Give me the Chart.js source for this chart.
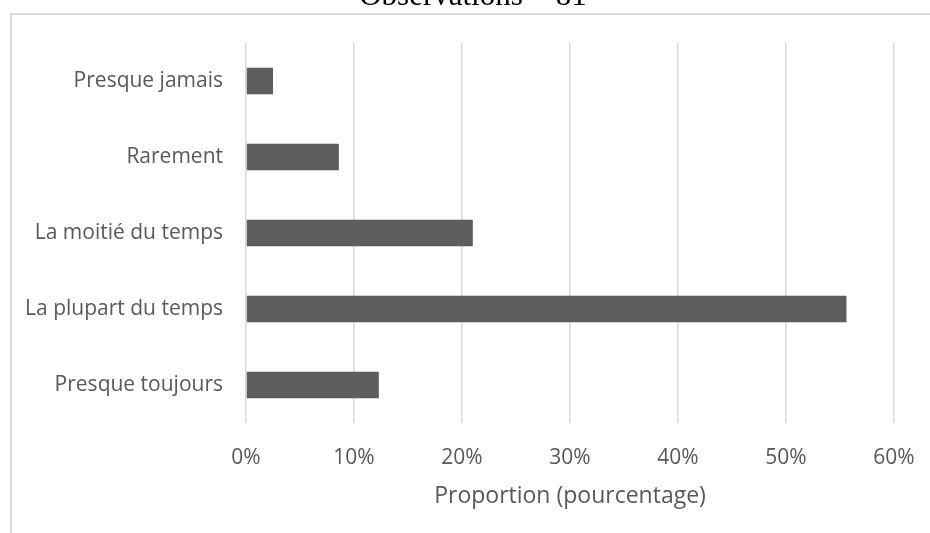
<!DOCTYPE html>
<html>
<head>
<meta charset="utf-8">
<script src="https://cdn.jsdelivr.net/npm/chart.js@4"></script>
<style>
  html, body { margin: 0; padding: 0; background: #fff; overflow: hidden; }
  #wrap { position: relative; width: 930px; height: 533px; }
  #frame { position: absolute; left: 10px; top: 13px; width: 1000px; height: 1000px; border: 2px solid #d9d9d9; }
  canvas { position: absolute; left: 0; top: 0; }
</style>
</head>
<body>
<div id="wrap">
  <div id="frame"></div>
  <canvas id="chart" width="930" height="533"></canvas>
</div>
<script>
// answers, top to bottom as drawn
const categories = ['Presque jamais', 'Rarement', 'La moitié du temps', 'La plupart du temps', 'Presque toujours'];
const proportions = [2.5, 8.6, 21.0, 55.6, 12.3];
const xTicks = [0, 10, 20, 30, 40, 50, 60];
const chartTitle = 'Observations = 81';
const axisTitle = 'Proportion (pourcentage)';

const labelFont = "'Open Sans', sans-serif";

// title sits half outside the picture, so draw it ourselves
const clippedTitle = {
  id: 'clippedTitle',
  afterDraw(chart) {
    const ctx = chart.ctx;
    ctx.save();
    ctx.font = "31px 'Liberation Serif', serif";
    ctx.fillStyle = '#000';
    ctx.textAlign = 'center';
    ctx.textBaseline = 'alphabetic';
    ctx.fillText(chartTitle, 473, 5);
    ctx.restore();
  }
};

new Chart(document.getElementById('chart'), {
  type: 'bar',
  data: {
    labels: categories,
    datasets: [{
      data: proportions,
      backgroundColor: '#5e5e5e',
      borderWidth: 0,
      barPercentage: 0.35,
      categoryPercentage: 1
    }]
  },
  options: {
    indexAxis: 'y',
    responsive: false,
    animation: false,
    layout: { padding: { top: 43, right: 36, bottom: 0, left: 0 } },
    plugins: {
      legend: { display: false },
      tooltip: { enabled: false }
    },
    scales: {
      x: {
        min: xTicks[0],
        max: xTicks[xTicks.length - 1],
        afterBuildTicks: (scale) => { scale.ticks = xTicks.map(v => ({ value: v })); },
        afterFit: (scale) => {
          scale.height = 110;
          scale.paddingLeft = 0;
          scale.paddingRight = 0;
        },
        grid: { color: '#d9d9d9', lineWidth: 1.5, drawTicks: false },
        border: { display: false },
        ticks: {
          padding: 22,
          color: '#595959',
          font: { family: labelFont, size: 21 },
          callback: (v) => v + '%'
        },
        title: {
          display: true,
          text: axisTitle,
          color: '#595959',
          font: { family: labelFont, size: 23 },
          padding: { top: 0, bottom: 23 }
        }
      },
      y: {
        afterFit: (scale) => { scale.width = 246; },
        grid: { display: false, drawTicks: false },
        border: { display: false },
        ticks: {
          padding: 23,
          color: '#595959',
          font: { family: labelFont, size: 21 }
        }
      }
    }
  },
  plugins: [clippedTitle]
});
</script>
</body>
</html>
